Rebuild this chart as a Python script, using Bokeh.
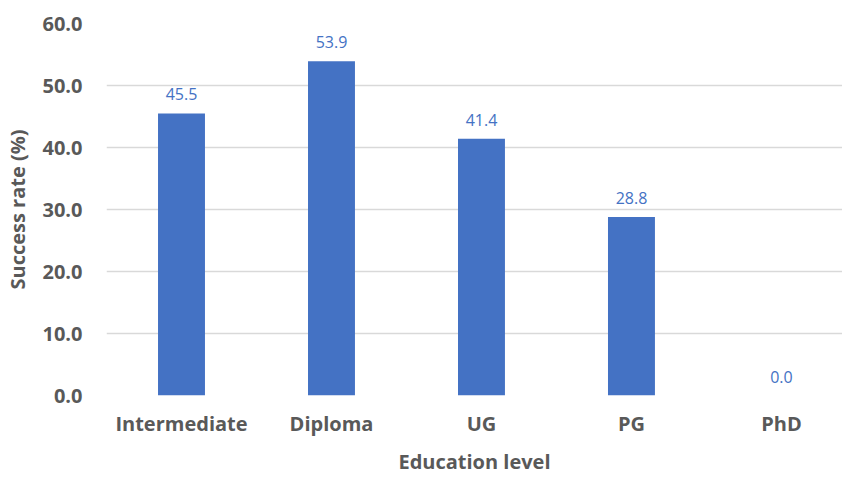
from bokeh.plotting import figure
from bokeh.models import Range1d, FixedTicker, ColumnDataSource, LabelSet
from bokeh.core.properties import value
from bokeh.embed import file_html
from bokeh.resources import INLINE

categories = ["Intermediate", "Diploma", "UG", "PG", "PhD"]
success_rate = [45.5, 53.9, 41.4, 28.8, 0.0]
y_ticks = [0, 10, 20, 30, 40, 50, 60]

FONT = "Open Sans"
xs = [i + 0.5 for i in range(len(categories))]
src = ColumnDataSource(dict(x=xs, y=success_rate,
                            lbl=[f"{v:.1f}" for v in success_rate]))

p = figure(width=842, height=477, output_backend="svg", toolbar_location=None,
           x_range=Range1d(0, 4.907), y_range=Range1d(0, 60),
           min_border_left=106, min_border_right=0, min_border_top=23,
           min_border_bottom=80)
p.outline_line_color = None
p.background_fill_color = "white"
p.border_fill_color = "white"

p.vbar(x="x", top="y", width=0.313, source=src, fill_color="#4472C4",
       line_color=None)

labels = LabelSet(x="x", y="y", text="lbl", source=src, y_offset=13,
                  text_align="center", text_baseline="bottom",
                  text_color="#4472C4", text_font=value(FONT),
                  text_font_size="16px")
p.add_layout(labels)

p.xaxis.ticker = FixedTicker(ticks=xs)
p.xaxis.major_label_overrides = {x: c for x, c in zip(xs, categories)}
p.yaxis.ticker = FixedTicker(ticks=y_ticks)
p.yaxis.major_label_overrides = {t: f"{t:.1f}" for t in y_ticks}

for ax in (p.xaxis[0], p.yaxis[0]):
    ax.axis_line_color = None
    ax.major_tick_line_color = None
    ax.minor_tick_line_color = None
    ax.major_tick_out = 0
    ax.major_tick_in = 0
    ax.major_label_text_font = FONT
    ax.major_label_text_font_style = "bold"
    ax.major_label_text_font_size = "20px"
    ax.major_label_text_color = "#595959"
    ax.axis_label_text_font = FONT
    ax.axis_label_text_font_style = "bold"
    ax.axis_label_text_font_size = "20px"
    ax.axis_label_text_color = "#595959"

p.xaxis.axis_label = "Education level"
p.yaxis.axis_label = "Success rate (%)"
p.xaxis.major_label_standoff = 14
p.xaxis.axis_label_standoff = 8
p.yaxis.major_label_standoff = 24
p.yaxis.axis_label_standoff = 8

p.xgrid.grid_line_color = None
p.ygrid.grid_line_color = "#D9D9D9"
p.ygrid.grid_line_width = 1.5
p.ygrid.ticker = FixedTicker(ticks=y_ticks)

open("out.html", "w").write(file_html(p, INLINE))
